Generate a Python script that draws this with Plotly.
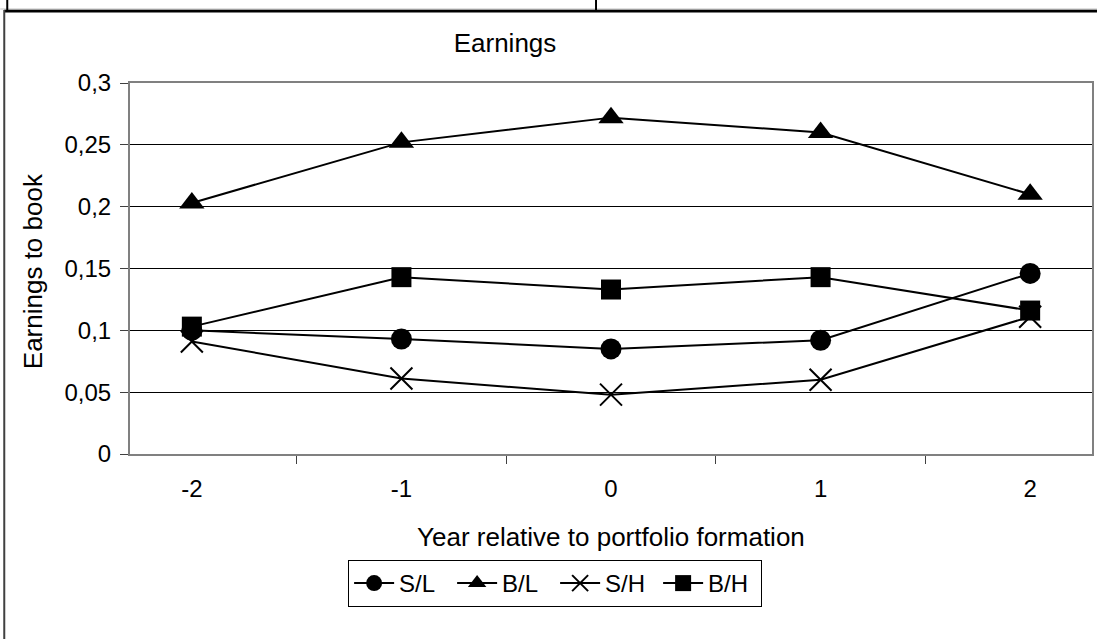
import plotly.graph_objects as go

# Earnings-to-book ratios around portfolio formation
years = ["-2", "-1", "0", "1", "2"]
s_l = [0.100, 0.093, 0.085, 0.092, 0.146]
b_l = [0.203, 0.252, 0.272, 0.260, 0.210]
s_h = [0.091, 0.061, 0.048, 0.060, 0.111]
b_h = [0.103, 0.143, 0.133, 0.143, 0.116]
y_ticks = [0, 0.05, 0.1, 0.15, 0.2, 0.25, 0.3]
y_tick_text = ["0", "0,05", "0,1", "0,15", "0,2", "0,25", "0,3"]

W, H = 1099, 639
L, R, T, B = 130, 5, 83, 185
PW, PH = W - L - R, H - T - B

FONT = "Liberation Sans, Arial, sans-serif"


def px(xp):
    return (xp - L) / PW


def py(yp):
    return (H - B - yp) / PH


series = [
    ("S/L", s_l, dict(symbol="circle", size=21)),
    ("B/L", b_l, dict(symbol="triangle-up", size=22)),
    ("S/H", s_h, dict(symbol="x-thin", size=22, line=dict(width=2, color="black"))),
    ("B/H", b_h, dict(symbol="square", size=20)),
]

fig = go.Figure()
for name, vals, mk in series:
    fig.add_trace(go.Scatter(
        x=years, y=vals, name=name, mode="lines+markers",
        line=dict(color="black", width=2),
        marker=dict(color="black", **mk),
    ))

fig.update_layout(
    width=W, height=H,
    margin=dict(l=L, r=R, t=T, b=B),
    paper_bgcolor="white", plot_bgcolor="white",
    font=dict(family=FONT, color="black", size=24),
    title=dict(text="Earnings", x=505 / W, xanchor="center",
               y=1 - 43 / H, yanchor="middle",
               font=dict(size=26, family=FONT, color="black")),
    showlegend=True,
    legend=dict(orientation="h", x=px(556), xanchor="center",
                y=py(560), yanchor="top",
                bordercolor="black", borderwidth=1,
                font=dict(size=24, family=FONT, color="black"),
                itemwidth=40, entrywidth=48, tracegroupgap=0),
)

fig.update_xaxes(
    type="category", tickson="boundaries", ticks="outside", ticklen=8,
    tickcolor="#404040", showline=True, linecolor="#808080", linewidth=2,
    mirror=True, showgrid=False, ticklabelstandoff=12,
    tickfont=dict(size=24, family=FONT, color="black"),
)
fig.update_yaxes(
    range=[0, 0.3], tickvals=y_ticks, ticktext=y_tick_text,
    ticks="outside", ticklen=8, tickcolor="#404040",
    showline=True, linecolor="#808080", linewidth=2, mirror=True,
    showgrid=True, gridcolor="black", gridwidth=1, zeroline=False,
    ticklabelstandoff=4,
    tickfont=dict(size=24, family=FONT, color="black"),
)

# axis titles
fig.add_annotation(text="Year relative to portfolio formation", xref="paper", yref="paper",
                   x=px(612), y=py(537), xanchor="center", yanchor="middle",
                   showarrow=False, font=dict(size=26, family=FONT, color="black"))
fig.add_annotation(text="Earnings to book", xref="paper", yref="paper",
                   x=px(33), y=py(271), xanchor="center", yanchor="middle", textangle=-90,
                   showarrow=False, font=dict(size=26, family=FONT, color="black"))

# surrounding frame lines
frame = [
    dict(x0=4, y0=11, x1=W, y1=11, color="black", width=3),
    dict(x0=0, y0=9, x1=W, y1=9, color="#c0c0c0", width=1),
    dict(x0=4, y0=10, x1=4, y1=H, color="#404040", width=2),
    dict(x0=7, y0=0, x1=7, y1=10, color="black", width=2),
    dict(x0=597, y0=0, x1=597, y1=10, color="black", width=2),
]
for f in frame:
    fig.add_shape(type="line", xref="paper", yref="paper",
                  x0=px(f["x0"]), y0=py(f["y0"]), x1=px(f["x1"]), y1=py(f["y1"]),
                  line=dict(color=f["color"], width=f["width"]), layer="above")

fig.write_html("out.html")
